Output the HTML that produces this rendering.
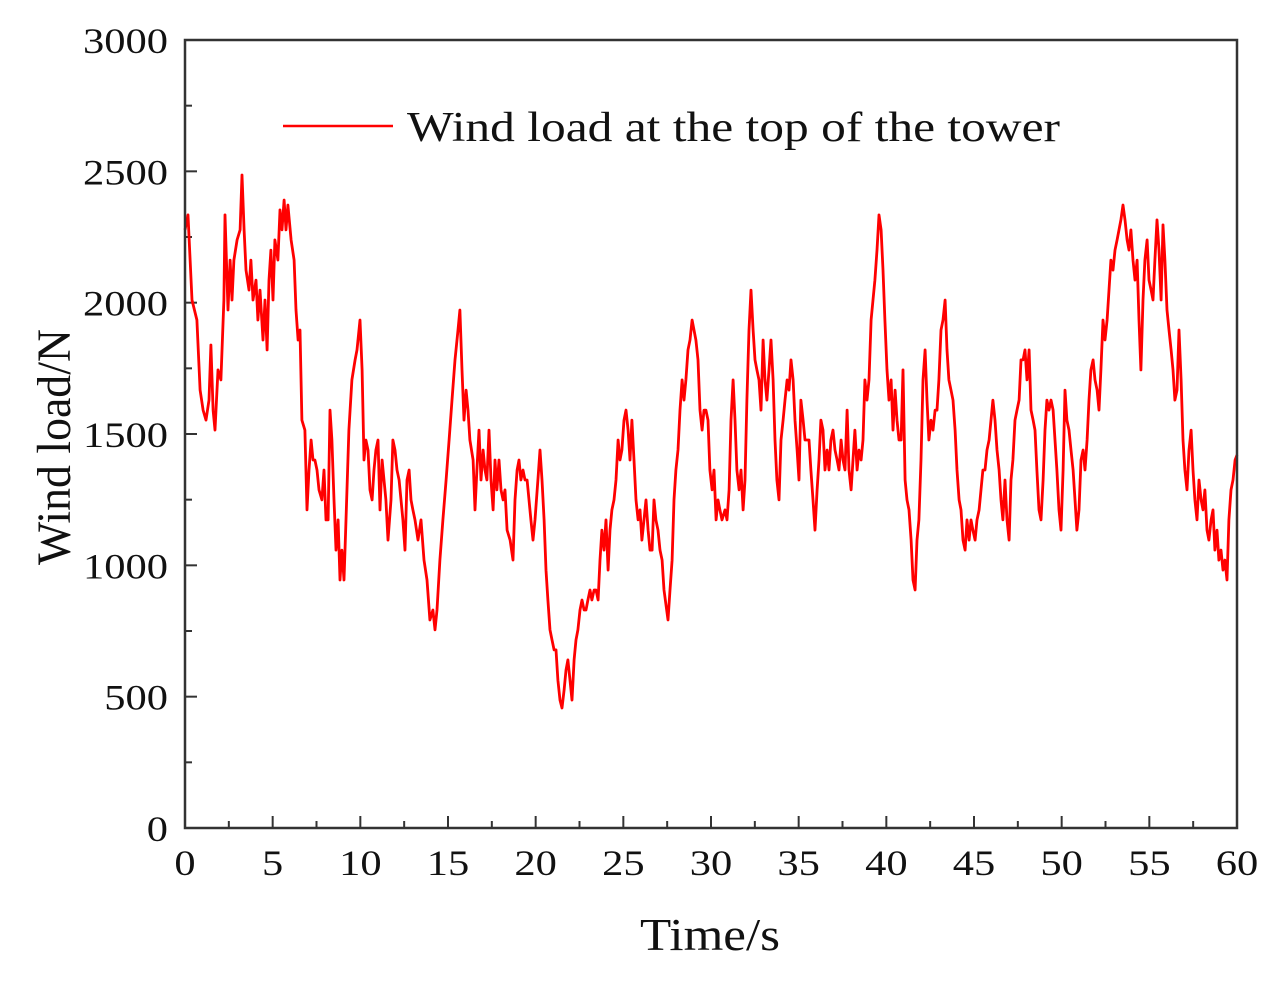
<!DOCTYPE html>
<html><head><meta charset="utf-8"><style>
html,body{margin:0;padding:0;background:#fff}
svg text{font-family:"Liberation Serif",serif;fill:#111}
</style></head><body>
<svg id="chart" width="1273" height="976" viewBox="0 0 1273 976" xmlns="http://www.w3.org/2000/svg">
<g id="ticks"></g>
<g id="series"></g>
<rect x="185" y="40" width="1052" height="788" fill="none" stroke="#333" stroke-width="2.5"/>
<g id="labels"></g>
<text x="710" y="950" font-size="46" text-anchor="middle" textLength="140" lengthAdjust="spacingAndGlyphs">Time/s</text>
<text transform="translate(70,447) rotate(-90)" font-size="48" text-anchor="middle" textLength="236" lengthAdjust="spacingAndGlyphs">Wind load/N</text>
<g>
<line x1="283" y1="126" x2="393" y2="126" stroke="#ff0000" stroke-width="2.5"/>
<text x="407" y="141" font-size="42" textLength="653" lengthAdjust="spacingAndGlyphs">Wind load at the top of the tower</text>
</g>
</svg>
<script>
const xTicks=[0,5,10,15,20,25,30,35,40,45,50,55,60];
const yTicks=[0,500,1000,1500,2000,2500,3000];
const times=[0.00,0.17,0.40,0.68,0.86,1.03,1.20,1.37,1.48,1.60,1.71,1.88,2.05,2.22,2.28,2.45,2.57,2.68,2.79,2.97,3.14,3.25,3.37,3.48,3.65,3.76,3.88,4.05,4.16,4.28,4.45,4.56,4.68,4.79,4.90,5.02,5.13,5.30,5.42,5.53,5.65,5.76,5.87,6.05,6.22,6.33,6.45,6.56,6.67,6.84,6.96,7.07,7.19,7.30,7.41,7.53,7.64,7.81,7.93,8.04,8.16,8.27,8.38,8.50,8.61,8.73,8.84,8.95,9.07,9.18,9.35,9.52,9.70,9.81,9.98,10.10,10.21,10.32,10.44,10.55,10.67,10.78,10.89,11.01,11.12,11.24,11.35,11.46,11.58,11.75,11.86,11.98,12.09,12.21,12.32,12.43,12.55,12.66,12.78,12.89,13.00,13.12,13.29,13.46,13.63,13.80,13.97,14.14,14.26,14.37,14.54,14.71,14.89,15.06,15.23,15.40,15.57,15.68,15.80,15.91,16.03,16.14,16.25,16.43,16.54,16.65,16.77,16.88,17.00,17.11,17.22,17.34,17.45,17.57,17.68,17.79,17.91,18.02,18.14,18.25,18.37,18.54,18.71,18.82,18.94,19.05,19.16,19.28,19.39,19.51,19.62,19.73,19.85,19.96,20.13,20.25,20.36,20.48,20.59,20.70,20.82,20.93,21.05,21.16,21.27,21.39,21.50,21.62,21.73,21.84,21.96,22.07,22.19,22.30,22.41,22.53,22.64,22.76,22.87,22.98,23.10,23.21,23.33,23.44,23.56,23.67,23.78,23.90,24.01,24.13,24.24,24.35,24.47,24.58,24.70,24.81,24.92,25.04,25.15,25.27,25.38,25.49,25.61,25.72,25.84,25.95,26.06,26.18,26.29,26.41,26.52,26.64,26.75,26.86,26.98,27.09,27.21,27.32,27.55,27.66,27.78,27.89,28.00,28.12,28.23,28.35,28.46,28.57,28.69,28.80,28.92,29.03,29.14,29.26,29.37,29.49,29.60,29.71,29.83,29.94,30.06,30.17,30.29,30.40,30.51,30.63,30.80,30.91,31.03,31.14,31.26,31.37,31.48,31.60,31.71,31.83,31.94,32.05,32.17,32.28,32.40,32.51,32.62,32.74,32.85,32.97,33.08,33.19,33.31,33.42,33.54,33.65,33.76,33.88,33.99,34.11,34.22,34.34,34.45,34.56,34.68,34.79,34.91,35.02,35.13,35.25,35.36,35.48,35.59,35.70,35.82,35.93,36.05,36.16,36.27,36.39,36.50,36.62,36.73,36.84,36.96,37.07,37.19,37.30,37.42,37.53,37.64,37.76,37.87,37.99,38.10,38.21,38.33,38.44,38.56,38.67,38.78,38.90,39.01,39.13,39.24,39.35,39.47,39.58,39.70,39.81,39.92,40.04,40.15,40.27,40.38,40.50,40.61,40.72,40.84,40.95,41.07,41.18,41.29,41.41,41.52,41.64,41.75,41.86,41.98,42.09,42.21,42.32,42.43,42.55,42.66,42.78,42.89,43.00,43.12,43.23,43.35,43.46,43.57,43.69,43.80,43.92,44.03,44.15,44.26,44.37,44.49,44.60,44.72,44.83,44.94,45.06,45.17,45.29,45.40,45.51,45.63,45.74,45.86,45.97,46.08,46.20,46.31,46.43,46.54,46.65,46.77,46.88,47.00,47.11,47.22,47.34,47.45,47.57,47.68,47.80,47.91,48.02,48.14,48.25,48.37,48.48,48.59,48.71,48.82,48.94,49.05,49.16,49.28,49.39,49.51,49.62,49.73,49.85,49.96,50.08,50.19,50.30,50.42,50.53,50.65,50.76,50.87,50.99,51.10,51.22,51.33,51.45,51.56,51.67,51.79,51.90,52.02,52.13,52.24,52.36,52.47,52.59,52.70,52.81,52.93,53.04,53.16,53.27,53.38,53.50,53.61,53.73,53.84,53.95,54.07,54.18,54.30,54.41,54.52,54.64,54.75,54.87,54.98,55.10,55.21,55.32,55.44,55.55,55.67,55.78,55.89,56.01,56.12,56.24,56.35,56.46,56.58,56.69,56.81,56.92,57.03,57.15,57.26,57.38,57.49,57.60,57.72,57.83,57.95,58.06,58.17,58.29,58.40,58.52,58.63,58.74,58.86,58.97,59.09,59.20,59.31,59.43,59.54,59.66,59.77,59.89,60.00];
const loads=[2277,2334,2010,1934,1667,1591,1553,1629,1839,1591,1515,1744,1706,2010,2334,1972,2162,2010,2162,2239,2277,2486,2277,2124,2048,2162,2010,2086,1934,2048,1858,2010,1820,2086,2200,2010,2239,2162,2353,2277,2391,2277,2372,2239,2162,1972,1858,1896,1553,1515,1211,1363,1477,1401,1401,1363,1287,1249,1363,1173,1173,1591,1477,1249,1058,1173,944,1058,944,1173,1515,1706,1782,1820,1934,1744,1401,1477,1439,1287,1249,1363,1439,1477,1211,1401,1325,1249,1096,1249,1477,1439,1363,1325,1249,1173,1058,1325,1363,1249,1211,1173,1096,1173,1020,944,792,830,754,830,1020,1173,1325,1477,1629,1782,1896,1972,1744,1553,1667,1591,1477,1401,1211,1363,1515,1325,1439,1363,1325,1515,1325,1211,1401,1287,1401,1287,1249,1287,1134,1096,1020,1249,1363,1401,1325,1363,1325,1325,1249,1173,1096,1173,1325,1439,1325,1173,982,868,754,716,678,678,563,487,457,525,601,640,563,487,640,716,754,830,868,830,830,868,906,868,906,906,868,1020,1134,1058,1173,982,1134,1211,1249,1325,1477,1401,1439,1553,1591,1515,1401,1553,1401,1249,1173,1211,1096,1173,1249,1134,1058,1058,1249,1173,1134,1058,1020,906,792,906,1020,1249,1363,1439,1591,1706,1629,1706,1820,1858,1934,1896,1858,1782,1591,1515,1591,1591,1553,1363,1287,1363,1173,1249,1211,1173,1211,1173,1287,1553,1706,1553,1363,1287,1363,1211,1325,1629,1896,2048,1896,1782,1744,1706,1591,1858,1706,1629,1744,1858,1706,1477,1325,1249,1477,1553,1629,1706,1667,1782,1706,1553,1439,1325,1629,1553,1477,1477,1477,1363,1249,1134,1287,1401,1553,1515,1363,1439,1363,1477,1515,1439,1401,1363,1477,1401,1363,1591,1363,1287,1401,1515,1363,1439,1401,1477,1706,1629,1706,1934,2010,2086,2200,2334,2277,2124,1934,1744,1629,1706,1515,1667,1553,1477,1477,1744,1325,1249,1211,1096,944,906,1096,1173,1401,1706,1820,1629,1477,1553,1515,1591,1591,1706,1896,1934,2010,1820,1706,1667,1629,1515,1363,1249,1211,1096,1058,1173,1096,1173,1134,1096,1173,1211,1287,1363,1363,1439,1477,1553,1629,1553,1439,1363,1249,1173,1325,1173,1096,1325,1401,1553,1591,1629,1782,1782,1820,1706,1820,1591,1553,1515,1363,1211,1173,1325,1515,1629,1591,1629,1591,1477,1363,1211,1134,1363,1667,1553,1515,1439,1363,1249,1134,1211,1401,1439,1363,1477,1629,1744,1782,1706,1667,1591,1744,1934,1858,1934,2048,2162,2124,2200,2239,2277,2315,2372,2315,2239,2200,2277,2162,2086,2162,1934,1744,2010,2162,2239,2086,2048,2010,2162,2315,2200,2010,2296,2162,1972,1896,1820,1744,1629,1667,1896,1706,1477,1363,1287,1439,1515,1363,1249,1173,1325,1249,1211,1287,1134,1096,1173,1211,1058,1134,1020,1058,982,1020,944,1173,1287,1325,1401,1420];
const X0=185,X1=1237,Y0=828,Y1=40;
const xs=t=>X0+(t-0)/(60-0)*(X1-X0);
const ys=v=>Y0-(v-0)/(3000-0)*(Y0-Y1);
const NS="http://www.w3.org/2000/svg";
const tg=document.getElementById('ticks'),lg=document.getElementById('labels'),sg=document.getElementById('series');
function mk(tag,attrs,parent){const e=document.createElementNS(NS,tag);for(const k in attrs)e.setAttribute(k,attrs[k]);parent.appendChild(e);return e;}
function widen(el){const w=el.getComputedTextLength();el.setAttribute('textLength',(w*1.18).toFixed(1));el.setAttribute('lengthAdjust','spacingAndGlyphs');}
xTicks.forEach((t,i)=>{
  const x=xs(t);
  const l=mk('line',{x1:x,y1:Y0,x2:x,y2:Y0-12,stroke:'#333','stroke-width':2},tg);
  
  
  if(i<xTicks.length-1){const m=mk('line',{x1:xs(t+2.5),y1:Y0,x2:xs(t+2.5),y2:Y0-7,stroke:'#333','stroke-width':2},tg);
    
    }
  const tx=mk('text',{x:x,y:875,'font-size':36,'text-anchor':'middle'},lg);
  tx.textContent=t;
  
  
  widen(tx);
});
yTicks.forEach((v,i)=>{
  const y=ys(v);
  const l=mk('line',{x1:X0,y1:y,x2:X0+12,y2:y,stroke:'#333','stroke-width':2},tg);
  
  
  if(i<yTicks.length-1){const m=mk('line',{x1:X0,y1:ys(v+250),x2:X0+7,y2:ys(v+250),stroke:'#333','stroke-width':2},tg);
    
    }
  const tx=mk('text',{x:168,y:y+13,'font-size':36,'text-anchor':'end'},lg);
  tx.textContent=v;
  
  
  widen(tx);
});
const d=times.map((t,i)=>(i?'L':'M')+xs(t).toFixed(1)+','+ys(loads[i]).toFixed(1)).join('');
const p=mk('path',{d:d,fill:'none',stroke:'#ff0000','stroke-width':2.8,'stroke-linejoin':'round'},sg);


</script>
</body></html>
